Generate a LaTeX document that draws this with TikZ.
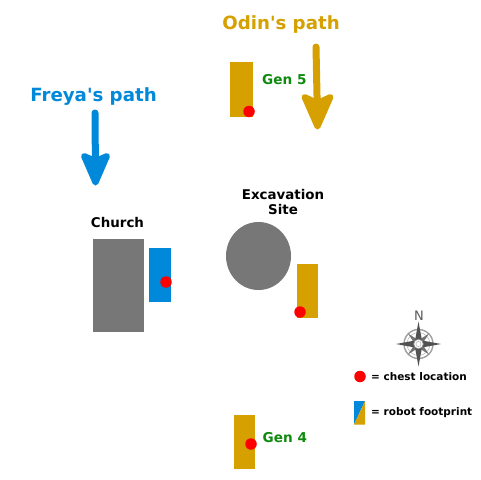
\documentclass[tikz,border=0pt]{standalone}
\usepackage{fontspec}
\setmainfont{DejaVu Sans}
\newfontfamily\plainfont{DejaVu Sans}
\definecolor{odin}{HTML}{D5A000}
\definecolor{freya}{HTML}{0088DA}
\definecolor{site}{HTML}{777777}
\definecolor{gen}{HTML}{0E8A0E}
\tikzset{
 x=1pt,y=-1pt,
 foot/.style={fill=odin,draw=none},
 chest/.style={circle,fill=red,draw=none,minimum size=11.5pt,inner sep=0pt},
 lab/.style={font=\bfseries\fontsize{10.5}{12}\selectfont,text=black,inner sep=0pt},
 genlab/.style={font=\bfseries\fontsize{13.6}{15}\selectfont,text=gen,inner sep=0pt},
 title/.style={font=\bfseries\fontsize{13.4}{15.5}\selectfont,text=black,inner sep=0pt,align=center},
 pathlab/.style={font=\plainfont\bfseries\fontsize{18.2}{21}\selectfont,inner sep=0pt},
 patharrow/.style={line width=7pt,line cap=round,line join=round},
}
\begin{document}
\begin{tikzpicture}
\useasboundingbox (0,0) rectangle (481,479);
\fill[white] (0,0) rectangle (481,479);
% titles
\node[pathlab,text=odin] (odinlab) at (281,24.5) {Odin's path};
\node[pathlab,text=freya] (freyalab) at (93.5,96.5) {Freya's path};
% arrows
\coordinate (oa) at (316,47);\coordinate (ob) at (317.5,120);
\draw[patharrow,draw=odin] (oa) -- (ob);
\fill[odin,draw=odin,line width=6pt,line join=round] (304.5,97) -- (317.5,126.5) -- (330.5,97) -- (317.5,103) -- cycle;
\coordinate (fa) at (95,113);\coordinate (fb) at (95.5,176);
\draw[patharrow,draw=freya] (fa) -- (fb);
\fill[freya,draw=freya,line width=6pt,line join=round] (84,156) -- (95.5,182.5) -- (107,156) -- (95.5,161) -- cycle;
% Gen 5
\fill[foot] (230,62) rectangle (253,117);
\node[chest] (c5) at (249,111.5) {};
\node[genlab,anchor=west] (g5) at (262,80) {Gen 5};
% Church
\fill[site] (93,238.5) rectangle (144,331.5);
\node[title] (church) at (117.5,222.5) {Church};
\fill[freya] (149,247.5) rectangle (170.5,302);
\node[chest] (cc) at (166,282) {};
% Site
\fill[site] (258.5,256) ellipse (32.5 and 34);
\node[title] (site) at (283,202) {Excavation\\Site};
\fill[foot] (297,263.5) rectangle (318,317.5);
\node[chest] (cs) at (300,312) {};
% Gen 4
\fill[foot] (233.5,415) rectangle (254.5,468.5);
\node[chest] (c4) at (251,444) {};
\node[genlab,anchor=west] (g4) at (262.5,438) {Gen 4};
% compass
\begin{scope}[shift={(418.5,344)}]
\draw[site!70,line width=1.4pt] (0,0) circle (14.5);
\draw[site!50,line width=.6pt] (0,0) circle (11.5);
\foreach \a in {45,135,225,315}{
 \begin{scope}[rotate=\a]
 \fill[black!55] (0,-15) -- (2.5,-3) -- (-2.5,-3) -- cycle;
 \end{scope}}
\foreach \a in {0,90,180,270}{
 \begin{scope}[rotate=\a]
 \fill[black!68] (0,-22.5) -- (3.4,-4) -- (-3.4,-4) -- cycle;
 \end{scope}}
\fill[white] (0,0) circle (4.8);
\draw[black!45,line width=.7pt] (0,0) circle (4.8);
\draw[black!30,line width=.5pt] (0,0) circle (2.6);
\end{scope}
\node[font=\fontsize{13}{15}\selectfont,text=black!65,inner sep=0pt] (north) at (419,316) {N};
% legend
\node[chest] (lc) at (360,376.5) {};
\node[lab,anchor=west] (lt1) at (371,376.5) {= chest location};
\fill[freya] (354,401) -- (365,401) -- (354,424.5) -- cycle;
\fill[odin] (365,401) -- (365,424.5) -- (354,424.5) -- cycle;
\node[lab,anchor=west] (lt2) at (371,412.5) {= robot footprint};
\end{tikzpicture}
\end{document}
